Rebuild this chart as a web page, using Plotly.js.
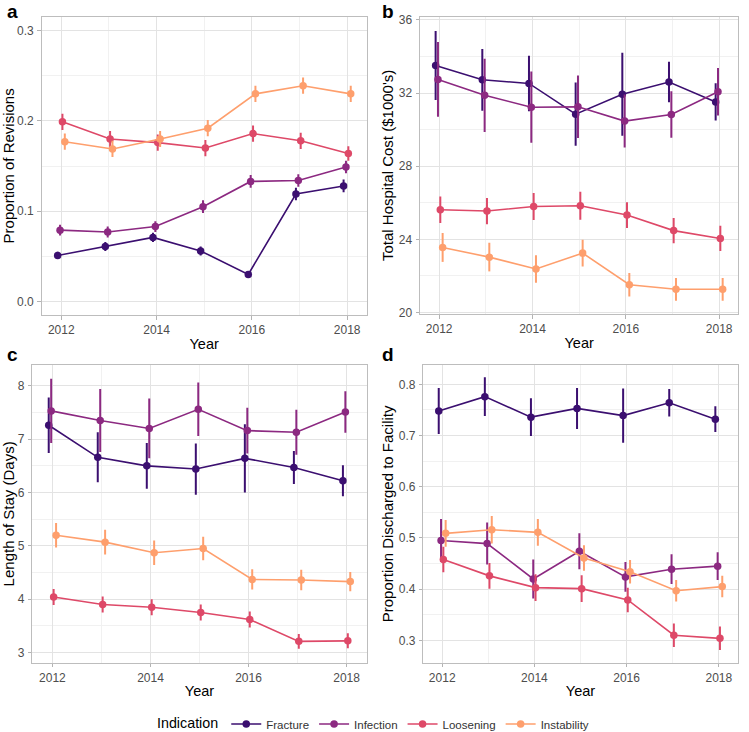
<!DOCTYPE html>
<html>
<head>
<meta charset="utf-8">
<script src="https://cdn.plot.ly/plotly-3.0.1.min.js"></script>
<style>html,body{margin:0;padding:0;background:#fff}#chart{width:749px;height:732px}</style>
</head>
<body>
<div id="chart"></div>
<script>
// ---------------- data ----------------
const years = [2012, 2013, 2014, 2015, 2016, 2017, 2018];
const indications = ["Fracture", "Infection", "Loosening", "Instability"];
const xTickLabels = ["2012", "2014", "2016", "2018"];

// a) Proportion of Revisions
const revFracture      = [0.051, 0.061, 0.071, 0.056, 0.030, 0.119, 0.128];
const revFractureErr   = [0.004, 0.005, 0.005, 0.005, 0.003, 0.007, 0.007];
const revInfection     = [0.079, 0.077, 0.083, 0.105, 0.133, 0.134, 0.149];
const revInfectionErr  = [0.006, 0.006, 0.006, 0.007, 0.007, 0.007, 0.007];
const revLoosening     = [0.199, 0.180, 0.176, 0.170, 0.186, 0.178, 0.164];
const revLooseningErr  = [0.009, 0.009, 0.009, 0.009, 0.009, 0.009, 0.008];
const revInstability   = [0.177, 0.169, 0.180, 0.192, 0.230, 0.239, 0.230];
const revInstabilityErr= [0.009, 0.009, 0.009, 0.009, 0.009, 0.009, 0.009];

// b) Total Hospital Cost ($1000's)
const costFracture      = [33.51, 32.73, 32.53, 30.85, 31.94, 32.61, 31.52];
const costFractureErr   = [1.89, 1.69, 1.52, 1.73, 2.27, 1.11, 1.02];
const costInfection     = [32.75, 31.88, 31.23, 31.25, 30.47, 30.83, 32.08];
const costInfectionErr  = [2.04, 2.00, 1.95, 1.71, 1.45, 1.27, 1.30];
const costLoosening     = [25.62, 25.55, 25.80, 25.84, 25.33, 24.48, 24.05];
const costLooseningErr  = [0.72, 0.72, 0.74, 0.76, 0.70, 0.69, 0.69];
const costInstability   = [23.56, 23.03, 22.38, 23.25, 21.52, 21.27, 21.27];
const costInstabilityErr= [0.79, 0.78, 0.75, 0.73, 0.64, 0.62, 0.62];

// c) Length of Stay (Days)
const losFracture      = [7.26, 6.66, 6.50, 6.44, 6.64, 6.47, 6.22];
const losFractureErr   = [0.52, 0.47, 0.43, 0.48, 0.64, 0.31, 0.29];
const losInfection     = [7.53, 7.35, 7.20, 7.56, 7.16, 7.13, 7.51];
const losInfectionErr  = [0.60, 0.59, 0.56, 0.50, 0.43, 0.42, 0.39];
const losLoosening     = [4.04, 3.90, 3.85, 3.75, 3.62, 3.21, 3.22];
const losLooseningErr  = [0.15, 0.15, 0.15, 0.15, 0.15, 0.14, 0.14];
const losInstability   = [5.20, 5.07, 4.87, 4.95, 4.37, 4.36, 4.33];
const losInstabilityErr= [0.23, 0.23, 0.23, 0.22, 0.19, 0.19, 0.18];

// d) Proportion Discharged to Facility
const disFracture      = [0.748, 0.776, 0.736, 0.753, 0.739, 0.764, 0.732];
const disFractureErr   = [0.045, 0.038, 0.037, 0.040, 0.053, 0.027, 0.025];
const disInfection     = [0.495, 0.489, 0.420, 0.474, 0.424, 0.439, 0.445];
const disInfectionErr  = [0.042, 0.041, 0.038, 0.035, 0.029, 0.029, 0.027];
const disLoosening     = [0.458, 0.426, 0.403, 0.401, 0.379, 0.310, 0.304];
const disLooseningErr  = [0.025, 0.025, 0.026, 0.026, 0.024, 0.023, 0.023];
const disInstability   = [0.509, 0.516, 0.511, 0.461, 0.434, 0.397, 0.405];
const disInstabilityErr= [0.026, 0.027, 0.026, 0.025, 0.023, 0.021, 0.021];

// ---------------- styling ----------------
const colors = ["#3B0F70", "#8C2981", "#DE4968", "#FE9F6D"];
const dodge = [-0.075, -0.025, 0.025, 0.075];
const FONT = "Liberation Sans, Arial, Helvetica, sans-serif";

const panels = [
  {vals:[revFracture, revInfection, revLoosening, revInstability],
   errs:[revFractureErr, revInfectionErr, revLooseningErr, revInstabilityErr], xa:"x", ya:"y"},
  {vals:[costFracture, costInfection, costLoosening, costInstability],
   errs:[costFractureErr, costInfectionErr, costLooseningErr, costInstabilityErr], xa:"x2", ya:"y2"},
  {vals:[losFracture, losInfection, losLoosening, losInstability],
   errs:[losFractureErr, losInfectionErr, losLooseningErr, losInstabilityErr], xa:"x3", ya:"y3"},
  {vals:[disFracture, disInfection, disLoosening, disInstability],
   errs:[disFractureErr, disInfectionErr, disLooseningErr, disInstabilityErr], xa:"x4", ya:"y4"}
];

const traces = [];
panels.forEach((p, pi) => {
  indications.forEach((name, gi) => {
    traces.push({
      type: "scatter", mode: "lines+markers", name: name,
      legendgroup: name, showlegend: pi === 0,
      x: years.map(y => y + dodge[gi]), y: p.vals[gi],
      xaxis: p.xa, yaxis: p.ya,
      line: {color: colors[gi], width: 1.6},
      marker: {color: colors[gi], size: 7.5},
      error_y: {type: "data", array: p.errs[gi], visible: true, width: 0, thickness: 2, color: colors[gi]},
      hoverinfo: "skip"
    });
  });
});

const W = 749, H = 732;
function dx(a, b) { return [a / W, b / W]; }
function dy(top, bottom) { return [1 - bottom / H, 1 - top / H]; }

function xAxis(domain, anchor) {
  return {
    domain: domain, anchor: anchor, range: [2011.59, 2018.41],
    tickmode: "array", tickvals: xTickLabels.map(Number), ticktext: xTickLabels,
    ticks: "outside", ticklen: 3.5, tickcolor: "#b3b3b3", tickwidth: 1,
    tickfont: {family: FONT, size: 12, color: "#4d4d4d"},
    showgrid: true, gridcolor: "#e3e3e3", gridwidth: 1,
    minor: {tickmode: "array", tickvals: [2013, 2015, 2017], showgrid: true, gridcolor: "#f1f1f1", gridwidth: 1},
    showline: true, linecolor: "#bdbdbd", linewidth: 1, mirror: true, zeroline: false,
    title: {text: "Year", font: {family: FONT, size: 14.5, color: "#000"}, standoff: 2}
  };
}
function yAxis(domain, anchor, range, dtick, tick0, fmt, minorDt, title, standoff) {
  return {
    domain: domain, anchor: anchor, range: range,
    tick0: tick0, dtick: dtick, tickformat: fmt,
    ticks: "outside", ticklen: 3.5, tickcolor: "#b3b3b3", tickwidth: 1,
    ticklabelstandoff: 1,
    tickfont: {family: FONT, size: 12, color: "#4d4d4d"},
    showgrid: true, gridcolor: "#e3e3e3", gridwidth: 1,
    minor: {tick0: tick0, dtick: minorDt, showgrid: true, gridcolor: "#f1f1f1", gridwidth: 1},
    showline: true, linecolor: "#bdbdbd", linewidth: 1, mirror: true, zeroline: false,
    title: {text: title, font: {family: FONT, size: 15, color: "#000"}, standoff: standoff}
  };
}

const layout = {
  width: W, height: H,
  margin: {l: 0, r: 0, t: 0, b: 0, autoexpand: false},
  paper_bgcolor: "#fff", plot_bgcolor: "#fff",
  font: {family: FONT},
  showlegend: true,
  xaxis:  xAxis(dx(41.7, 366.7), "y"),
  yaxis:  yAxis(dy(16.7, 315), "x", [-0.015, 0.3155], 0.1, 0, ".1f", 0.05, "Proportion of Revisions", 5.5),
  xaxis2: xAxis(dx(420, 738.3), "y2"),
  yaxis2: yAxis(dy(16.7, 314), "x2", [19.92, 36.18], 4, 20, "d", 2, "Total Hospital Cost ($1000's)", 1),
  xaxis3: xAxis(dx(32.3, 366.7), "y3"),
  yaxis3: yAxis(dy(365, 662.7), "x3", [2.81, 8.39], 1, 3, "d", 0.5, "Length of Stay (Days)", 5.5),
  xaxis4: xAxis(dx(423.3, 737.7), "y4"),
  yaxis4: yAxis(dy(365, 662.7), "x4", [0.2564, 0.8378], 0.1, 0.3, ".1f", 0.05, "Proportion Discharged to Facility", 1),
  legend: {
    orientation: "h", x: 0.5, xanchor: "center", y: 1 - 724 / H, yanchor: "middle",
    title: {text: "Indication", side: "left", font: {family: FONT, size: 14.3, color: "#000"}},
    font: {family: FONT, size: 11.5, color: "#333"},
    itemwidth: 30, bgcolor: "rgba(0,0,0,0)"
  },
  annotations: [
    {text: "<b>a</b>", x: 5 / W, y: 1 - 11.5 / H},
    {text: "<b>b</b>", x: 380 / W, y: 1 - 11.5 / H},
    {text: "<b>c</b>", x: 5 / W, y: 1 - 354 / H},
    {text: "<b>d</b>", x: 380 / W, y: 1 - 354 / H}
  ].map(a => Object.assign({xref: "paper", yref: "paper", xanchor: "left", yanchor: "middle",
    showarrow: false, font: {family: FONT, size: 19, color: "#000"}}, a))
};

Plotly.newPlot("chart", traces, layout, {staticPlot: true, displayModeBar: false});
</script>
</body>
</html>
